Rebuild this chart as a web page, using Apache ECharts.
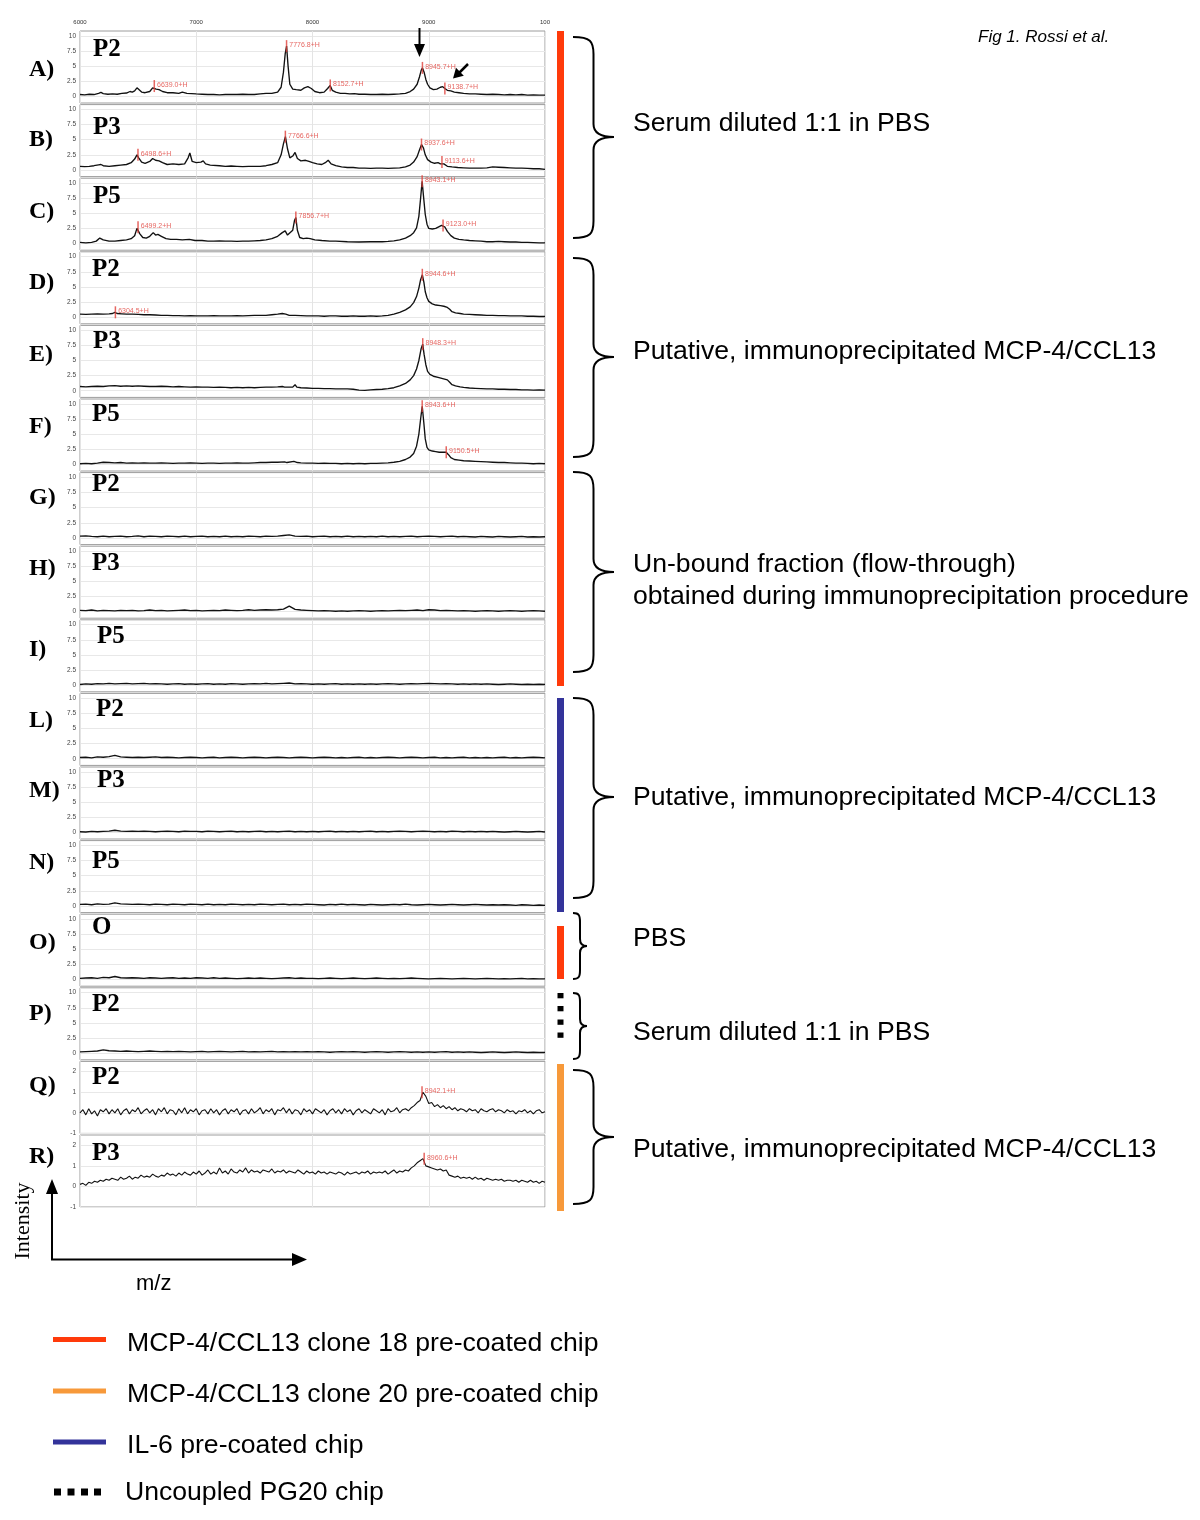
<!DOCTYPE html>
<html><head><meta charset="utf-8">
<script src="https://cdn.jsdelivr.net/npm/echarts@6.0.0/dist/echarts.min.js"></script>
<style>html,body{margin:0;padding:0;background:#fff}#c{width:1200px;height:1520px}</style>
</head><body><div id="c"></div><script>
// ---------- DATA ----------
const mzTicks = [6000, 7000, 8000, 9000, 10000];
const yTicksMain = [0, 2.5, 5, 7.5, 10];
const yTicksLow = [-1, 0, 1, 2];
const rowLetters = ['A)','B)','C)','D)','E)','F)','G)','H)','I)','L)','M)','N)','O)','P)','Q)','R)'];
const panelTags = ['P2','P3','P5','P2','P3','P5','P2','P3','P5','P2','P3','P5','O','P2','P2','P3'];

const specA = [[6000,0.3],[6040,0.25],[6080,0.35],[6120,0.3],[6160,0.5],[6180,0.65],[6200,0.45],[6240,0.35],[6280,0.4],[6320,0.35],[6360,0.5],[6400,0.55],[6430,0.8],[6450,0.7],[6470,0.9],[6490,1.4],[6505,1.2],[6530,0.7],[6560,0.6],[6600,0.8],[6625,1.4],[6639,1.7],[6655,1.2],[6680,1.1],[6710,0.8],[6750,0.6],[6800,0.6],[6850,0.5],[6880,0.7],[6920,0.5],[6960,0.45],[7000,0.4],[7050,0.35],[7100,0.3],[7150,0.3],[7200,0.25],[7250,0.3],[7300,0.3],[7350,0.3],[7400,0.35],[7450,0.3],[7500,0.3],[7550,0.4],[7600,0.5],[7650,0.5],[7700,0.7],[7730,1.5],[7750,4.0],[7765,7.0],[7777,8.3],[7790,5.0],[7805,2.0],[7830,1.2],[7860,1.1],[7900,1.0],[7930,1.4],[7960,1.6],[7990,1.3],[8020,0.8],[8060,0.6],[8100,0.7],[8130,1.3],[8152,1.8],[8170,1.0],[8200,0.7],[8240,0.5],[8280,0.5],[8320,0.4],[8360,0.45],[8400,0.35],[8450,0.35],[8500,0.3],[8550,0.3],[8600,0.35],[8650,0.3],[8700,0.35],[8750,0.4],[8800,0.5],[8840,0.8],[8870,1.2],[8900,2.0],[8920,3.2],[8935,4.3],[8946,4.7],[8960,4.0],[8975,2.8],[8990,2.0],[9010,1.4],[9040,1.1],[9070,1.2],[9100,1.5],[9120,1.6],[9139,1.3],[9160,1.0],[9190,0.9],[9220,0.7],[9260,0.6],[9300,0.5],[9350,0.4],[9400,0.4],[9450,0.35],[9500,0.3],[9550,0.35],[9600,0.3],[9650,0.25],[9700,0.3],[9750,0.25],[9800,0.3],[9850,0.2],[9900,0.25],[9950,0.2],[10000,0.2]];
const peaksA = [[6639.0,1.7],[7776.8,8.3],[8152.7,1.8],[8945.7,4.7],[9138.7,1.3]];

const specB = [[6000,0.6],[6040,0.55],[6080,0.6],[6120,0.7],[6160,0.85],[6180,0.9],[6200,0.7],[6250,0.6],[6300,0.7],[6350,0.8],[6400,0.9],[6440,1.2],[6470,1.8],[6490,2.5],[6505,2.0],[6530,1.3],[6560,1.1],[6600,1.4],[6625,1.9],[6650,1.6],[6680,1.5],[6710,1.2],[6750,0.9],[6800,1.0],[6850,0.9],[6900,1.0],[6930,2.0],[6945,2.8],[6965,1.4],[7000,1.2],[7040,1.3],[7060,1.5],[7080,1.0],[7120,0.8],[7200,0.7],[7250,0.6],[7300,0.65],[7350,0.6],[7400,0.55],[7450,0.6],[7500,0.6],[7550,0.6],[7600,0.7],[7650,0.9],[7700,1.2],[7730,2.5],[7750,4.3],[7767,5.5],[7785,3.5],[7805,2.0],[7830,2.3],[7850,2.9],[7870,1.9],[7900,1.5],[7940,1.6],[7970,1.4],[8000,1.2],[8040,1.0],[8080,0.9],[8110,1.2],[8135,1.6],[8160,1.0],[8200,0.7],[8250,0.5],[8300,0.4],[8350,0.4],[8400,0.3],[8450,0.3],[8500,0.25],[8550,0.3],[8600,0.3],[8650,0.25],[8700,0.3],[8750,0.35],[8800,0.5],[8840,0.8],[8870,1.3],[8900,2.2],[8920,3.3],[8938,4.2],[8955,3.6],[8970,2.5],[8990,1.7],[9020,1.3],[9050,1.1],[9080,1.2],[9100,1.0],[9114,1.3],[9130,1.0],[9160,0.6],[9200,0.5],[9250,0.4],[9300,0.35],[9350,0.3],[9400,0.3],[9450,0.3],[9500,0.35],[9550,0.5],[9600,0.45],[9650,0.4],[9700,0.35],[9750,0.3],[9800,0.3],[9850,0.25],[9900,0.2],[9950,0.2],[10000,0.1]];
const peaksB = [[6498.6,2.5],[7766.6,5.5],[8937.6,4.2],[9113.6,1.3]];

const specC = [[6000,0.2],[6050,0.1],[6100,0.2],[6140,0.4],[6170,0.9],[6185,1.1],[6200,0.6],[6250,0.4],[6300,0.4],[6350,0.5],[6400,0.6],[6440,0.8],[6470,1.3],[6490,2.5],[6499,2.7],[6515,1.6],[6540,1.0],[6570,0.9],[6600,1.2],[6630,1.8],[6650,1.4],[6670,1.5],[6700,1.2],[6740,0.8],[6780,0.7],[6830,0.7],[6880,0.6],[6940,0.7],[6990,0.5],[7050,0.5],[7100,0.4],[7150,0.4],[7200,0.45],[7250,0.4],[7300,0.4],[7350,0.35],[7400,0.4],[7450,0.4],[7500,0.45],[7550,0.5],[7600,0.6],[7650,0.8],[7700,1.2],[7740,1.8],[7765,2.1],[7785,1.4],[7800,1.2],[7830,2.2],[7845,3.8],[7857,4.3],[7870,2.2],[7890,1.0],[7920,0.8],[7950,0.9],[7980,0.8],[8020,0.6],[8080,0.5],[8150,0.4],[8200,0.4],[8300,0.3],[8400,0.25],[8500,0.3],[8600,0.3],[8650,0.35],[8700,0.45],[8750,0.6],[8800,0.9],[8840,1.3],[8870,1.8],[8895,2.6],[8915,4.5],[8930,7.5],[8943,10.3],[8955,7.8],[8970,4.8],[8985,3.2],[9000,2.5],[9030,2.4],[9060,2.5],[9090,2.8],[9110,3.0],[9123,3.0],[9140,2.7],[9160,2.0],[9190,1.3],[9220,0.9],[9260,0.7],[9300,0.6],[9350,0.5],[9400,0.45],[9450,0.4],[9500,0.3],[9550,0.3],[9600,0.35],[9650,0.3],[9700,0.25],[9750,0.25],[9800,0.2],[9850,0.2],[9900,0.15],[9950,0.1],[10000,0.1]];
const peaksC = [[6499.2,2.7],[7856.7,4.3],[8943.1,10.3],[9123.0,3.0]];

const specD = [[6000,0.5],[6050,0.45],[6100,0.5],[6150,0.55],[6200,0.5],[6250,0.55],[6280,0.6],[6300,0.8],[6320,0.6],[6360,0.55],[6400,0.5],[6450,0.5],[6500,0.45],[6550,0.4],[6600,0.4],[6650,0.35],[6700,0.3],[6750,0.3],[6800,0.25],[6850,0.25],[6900,0.2],[6950,0.25],[7000,0.2],[7050,0.2],[7100,0.2],[7150,0.25],[7200,0.2],[7250,0.2],[7300,0.2],[7350,0.25],[7400,0.2],[7450,0.25],[7500,0.3],[7550,0.3],[7600,0.3],[7650,0.4],[7700,0.5],[7740,0.6],[7770,0.5],[7800,0.3],[7850,0.3],[7900,0.25],[7950,0.2],[8000,0.2],[8050,0.2],[8100,0.15],[8150,0.2],[8200,0.2],[8250,0.15],[8300,0.15],[8350,0.2],[8400,0.15],[8450,0.15],[8500,0.2],[8550,0.15],[8600,0.2],[8650,0.3],[8700,0.5],[8750,0.8],[8800,1.2],[8840,1.7],[8870,2.4],[8895,3.4],[8915,4.8],[8930,6.2],[8945,7.0],[8958,5.8],[8970,4.2],[8985,3.2],[9000,2.6],[9030,2.2],[9060,2.0],[9100,1.9],[9130,1.8],[9160,1.6],[9180,1.3],[9200,0.9],[9230,0.7],[9270,0.6],[9300,0.5],[9350,0.45],[9400,0.4],[9450,0.35],[9500,0.3],[9550,0.3],[9600,0.25],[9650,0.25],[9700,0.2],[9750,0.2],[9800,0.2],[9850,0.15],[9900,0.15],[9950,0.1],[10000,0.1]];
const peaksD = [[6304.5,0.8],[8944.6,7.0]];

const specE = [[6000,0.7],[6050,0.65],[6100,0.7],[6150,0.75],[6200,0.7],[6250,0.8],[6300,0.85],[6350,0.75],[6400,0.8],[6450,0.75],[6500,0.8],[6550,0.75],[6600,0.7],[6650,0.7],[6700,0.75],[6750,0.7],[6800,0.65],[6850,0.7],[6900,0.65],[6950,0.6],[7000,0.65],[7050,0.6],[7100,0.6],[7150,0.55],[7200,0.6],[7250,0.55],[7300,0.5],[7350,0.55],[7400,0.5],[7450,0.55],[7500,0.5],[7550,0.55],[7600,0.6],[7650,0.6],[7700,0.65],[7740,0.7],[7760,0.6],[7830,0.6],[7850,1.0],[7865,0.6],[7900,0.5],[7950,0.45],[8000,0.4],[8050,0.4],[8100,0.35],[8150,0.35],[8200,0.3],[8250,0.3],[8300,0.3],[8350,0.25],[8400,0.1],[8450,0.05],[8500,0.15],[8550,0.2],[8600,0.25],[8650,0.35],[8700,0.5],[8750,0.8],[8800,1.2],[8840,1.8],[8870,2.5],[8895,3.6],[8915,5.0],[8935,7.0],[8948,7.7],[8960,6.0],[8975,4.3],[8990,3.2],[9010,2.7],[9040,2.4],[9080,2.2],[9120,2.0],[9160,1.8],[9180,1.4],[9200,1.0],[9230,0.8],[9270,0.65],[9300,0.55],[9350,0.45],[9400,0.4],[9450,0.35],[9500,0.3],[9550,0.3],[9600,0.25],[9650,0.25],[9700,0.2],[9750,0.2],[9800,0.15],[9850,0.15],[9900,0.1],[9950,0.15],[10000,0.1]];
const peaksE = [[8948.3,7.7]];

const specF = [[6000,0.1],[6050,0.15],[6100,0.1],[6150,0.2],[6200,0.35],[6250,0.3],[6300,0.25],[6350,0.3],[6400,0.2],[6450,0.25],[6500,0.2],[6550,0.25],[6600,0.2],[6650,0.2],[6700,0.25],[6750,0.2],[6800,0.15],[6850,0.2],[6900,0.2],[6950,0.25],[7000,0.2],[7050,0.15],[7100,0.2],[7150,0.2],[7200,0.15],[7250,0.2],[7300,0.2],[7350,0.25],[7400,0.2],[7450,0.2],[7500,0.25],[7550,0.3],[7600,0.3],[7650,0.35],[7700,0.35],[7760,0.4],[7780,0.3],[7840,0.5],[7870,0.3],[7900,0.25],[7950,0.2],[8000,0.2],[8050,0.15],[8100,0.2],[8150,0.15],[8200,0.15],[8250,0.1],[8300,0.15],[8350,0.1],[8400,0.15],[8450,0.1],[8500,0.15],[8550,0.15],[8600,0.2],[8650,0.25],[8700,0.35],[8750,0.5],[8800,0.8],[8840,1.2],[8870,1.8],[8895,3.0],[8915,5.0],[8930,7.5],[8944,9.6],[8957,7.0],[8970,4.2],[8985,2.8],[9000,2.4],[9030,2.2],[9060,2.1],[9090,2.0],[9120,2.0],[9150,2.0],[9170,1.6],[9190,1.1],[9220,0.8],[9260,0.7],[9300,0.6],[9350,0.55],[9400,0.5],[9450,0.45],[9500,0.4],[9550,0.35],[9600,0.3],[9650,0.3],[9700,0.25],[9750,0.2],[9800,0.2],[9850,0.15],[9900,0.1],[9950,0.15],[10000,0.1]];
const peaksF = [[8943.6,9.6],[9150.5,2.0]];

const mzGrid50 = [6000,6050,6100,6150,6200,6250,6300,6350,6400,6450,
6500,6550,6600,6650,6700,6750,6800,6850,6900,6950,
7000,7050,7100,7150,7200,7250,7300,7350,7400,7450,
7500,7550,7600,7650,7700,7750,7800,7850,7900,7950,
8000,8050,8100,8150,8200,8250,8300,8350,8400,8450,
8500,8550,8600,8650,8700,8750,8800,8850,8900,8950,
9000,9050,9100,9150,9200,9250,9300,9350,9400,9450,
9500,9550,9600,9650,9700,9750,9800,9850,9900,9950,10000];

const intG = [.3,.35,.25,.2,.3,.2,.25,.3,.2,.25, .35,.2,.3,.25,.2,.3,.25,.2,.3,.2, .25,.3,.2,.25,.2,.3,.2,.25,.2,.3, .25,.2,.3,.25,.3,.4,.5,.3,.25,.3, .2,.25,.3,.2,.25,.2,.3,.2,.25,.2, .25,.2,.3,.2,.25,.2,.25,.3,.2,.25, .3,.25,.2,.25,.3,.2,.25,.2,.15,.25, .2,.15,.25,.2,.15,.2,.25,.15,.2,.15, .2];
const intH = [.2,.15,.25,.1,.2,.15,.1,.2,.15,.2, .1,.15,.25,.15,.2,.1,.15,.2,.25,.15, .2,.1,.15,.2,.15,.25,.2,.15,.2,.3, .2,.25,.3,.25,.3,.4,.9,.35,.25,.2, .15,.1,.15,.1,.05,.1,.05,.1,.15,.1, .05,.1,.15,.1,.15,.2,.15,.2,.25,.15, .3,.25,.15,.2,.15,.1,.15,.1,.05,.1, .15,.1,.05,.1,.15,.1,.05,.1,.15,.1, .05];
const intI = [.1,.2,.15,.25,.2,.3,.2,.25,.3,.2, .25,.3,.2,.25,.2,.15,.2,.25,.15,.2, .15,.2,.25,.15,.2,.15,.25,.2,.15,.2, .25,.2,.3,.2,.25,.3,.35,.2,.25,.2, .15,.2,.15,.2,.25,.15,.2,.15,.2,.15, .2,.15,.2,.25,.2,.15,.2,.25,.2,.25, .3,.25,.2,.25,.2,.15,.2,.15,.2,.15, .2,.15,.1,.15,.2,.15,.1,.15,.1,.15, .1];
const intL = [.2,.25,.15,.3,.25,.35,.55,.3,.25,.2, .25,.2,.25,.3,.2,.25,.2,.15,.2,.25, .2,.15,.2,.25,.15,.2,.25,.2,.15,.2, .25,.2,.15,.2,.25,.2,.15,.2,.25,.2, .15,.2,.25,.2,.15,.2,.15,.2,.25,.15, .2,.15,.2,.25,.2,.15,.2,.25,.2,.15, .2,.25,.15,.2,.15,.2,.25,.15,.2,.15, .2,.15,.2,.25,.15,.2,.15,.2,.25,.2, .15];
const intM = [.1,.05,.15,.1,.15,.2,.35,.2,.15,.2, .15,.2,.15,.1,.15,.2,.15,.1,.2,.15, .15,.1,.2,.15,.1,.15,.2,.1,.15,.1, .15,.2,.1,.15,.1,.15,.2,.1,.15,.1, .15,.1,.15,.2,.1,.15,.1,.15,.1,.15, .2,.1,.15,.1,.15,.2,.15,.1,.15,.2, .15,.1,.15,.1,.2,.15,.1,.15,.1,.15, .1,.15,.1,.05,.1,.15,.1,.05,.1,.15, .05];
const intN = [.25,.3,.2,.35,.25,.3,.5,.35,.3,.25, .3,.25,.2,.3,.25,.2,.3,.25,.2,.3, .25,.2,.3,.2,.25,.2,.3,.25,.2,.25, .2,.3,.25,.2,.25,.3,.2,.25,.2,.3, .25,.2,.15,.25,.2,.3,.2,.25,.2,.15, .25,.2,.15,.2,.25,.2,.3,.2,.15,.2, .25,.2,.15,.2,.25,.2,.15,.2,.25,.2, .15,.2,.15,.2,.15,.1,.2,.15,.1,.15, .1];
const intO = [.2,.25,.3,.2,.35,.3,.5,.3,.25,.3, .25,.2,.3,.25,.2,.25,.3,.2,.25,.2, .3,.25,.2,.3,.2,.25,.2,.15,.2,.25, .2,.25,.2,.15,.2,.25,.3,.2,.25,.2, .2,.15,.2,.25,.2,.15,.2,.25,.2,.15, .2,.25,.2,.15,.2,.15,.2,.25,.2,.15, .1,.15,.2,.15,.1,.15,.2,.15,.1,.15, .2,.15,.1,.15,.1,.15,.2,.1,.15,.1, .1];
const intP = [.2,.25,.3,.35,.55,.4,.35,.3,.35,.3, .25,.3,.35,.3,.25,.3,.25,.3,.25,.2, .25,.3,.2,.25,.3,.25,.2,.25,.3,.2, .25,.2,.25,.3,.2,.25,.2,.25,.2,.25, .2,.25,.2,.15,.2,.25,.2,.25,.2,.15, .2,.25,.2,.15,.2,.25,.2,.15,.2,.15, .2,.15,.2,.25,.15,.2,.15,.2,.15,.1, .15,.2,.15,.1,.15,.2,.15,.1,.15,.1, .1];

const mzGrid25 = [6000,6025,6050,6075,6100,6125,6150,6175,
6200,6225,6250,6275,6300,6325,6350,6375,
6400,6425,6450,6475,6500,6525,6550,6575,
6600,6625,6650,6675,6700,6725,6750,6775,
6800,6825,6850,6875,6900,6925,6950,6975,
7000,7025,7050,7075,7100,7125,7150,7175,
7200,7225,7250,7275,7300,7325,7350,7375,
7400,7425,7450,7475,7500,7525,7550,7575,
7600,7625,7650,7675,7700,7725,7750,7775,
7800,7825,7850,7875,7900,7925,7950,7975,
8000,8025,8050,8075,8100,8125,8150,8175,
8200,8225,8250,8275,8300,8325,8350,8375,
8400,8425,8450,8475,8500,8525,8550,8575,
8600,8625,8650,8675,8700,8725,8750,8775,
8800,8825,8850,8875,8900,8925,8950,8975,
9000,9025,9050,9075,9100,9125,9150,9175,
9200,9225,9250,9275,9300,9325,9350,9375,
9400,9425,9450,9475,9500,9525,9550,9575,
9600,9625,9650,9675,9700,9725,9750,9775,
9800,9825,9850,9875,9900,9925,9950,9975,10000];

const intQ = [0.0,0.15,-0.1,0.2,-0.05,0.1,-0.15,0.15,
0.05,0.2,-0.05,0.15,0.0,0.2,-0.1,0.1,
0.2,-0.05,0.15,0.05,0.25,-0.05,0.1,0.2,
0.0,0.15,-0.1,0.2,0.05,0.25,-0.05,0.15,
0.1,-0.1,0.2,0.0,0.25,-0.05,0.15,0.05,
0.2,-0.1,0.1,0.15,-0.05,0.2,0.0,0.15,
-0.1,0.1,0.2,-0.05,0.15,0.05,0.2,-0.1,
0.1,0.15,-0.05,0.2,0.0,0.1,0.25,-0.05,
0.15,0.05,0.2,-0.1,0.15,0.1,0.25,0.0,
0.2,-0.05,0.15,0.1,-0.1,0.2,0.05,0.15,
-0.05,0.2,0.1,0.0,0.15,-0.1,0.1,0.2,
0.0,0.15,-0.05,0.2,0.05,0.15,-0.1,0.1,
0.2,0.0,0.15,0.05,-0.05,0.2,0.1,0.0,
0.15,-0.1,0.2,0.05,0.1,0.25,0.0,0.15,
0.2,0.1,0.25,0.35,0.5,0.6,1.0,0.8,
0.45,0.5,0.3,0.4,0.25,0.35,0.2,0.3,
0.15,0.25,0.1,0.2,0.15,0.05,0.2,0.1,
0.15,0.0,0.2,0.1,0.05,0.15,0.2,0.05,
0.15,0.1,0.0,0.15,0.05,0.1,-0.05,0.1,
0.05,0.15,0.0,0.1,-0.05,0.1,0.15,0.0,
0.05];
const peaksQ = [[8942.1,1.0]];

const intR = [0.1,0.15,0.05,0.2,0.15,0.25,0.2,0.3,
0.25,0.35,0.3,0.4,0.35,0.3,0.45,0.35,
0.4,0.5,0.35,0.45,0.4,0.55,0.45,0.5,
0.45,0.6,0.5,0.45,0.55,0.5,0.65,0.55,
0.6,0.5,0.65,0.55,0.7,0.6,0.55,0.7,
0.6,0.75,0.55,0.65,0.8,0.6,0.7,0.6,
0.9,0.65,0.75,0.6,0.85,0.7,0.65,0.8,
0.7,0.9,0.65,0.8,0.7,0.75,0.65,0.8,
0.75,0.7,0.85,0.65,0.75,0.7,0.8,0.65,
0.75,0.7,0.65,0.8,0.7,0.6,0.75,0.65,
0.7,0.6,0.75,0.65,0.7,0.6,0.7,0.65,
0.6,0.7,0.65,0.55,0.7,0.6,0.65,0.7,
0.6,0.7,0.65,0.75,0.6,0.7,0.65,0.7,
0.65,0.75,0.6,0.7,0.8,0.65,0.75,0.7,
0.8,0.75,0.9,1.0,1.15,1.25,1.35,1.0,
0.95,0.9,0.85,0.8,0.85,0.75,0.8,0.55,
0.5,0.45,0.5,0.4,0.45,0.4,0.45,0.35,
0.45,0.35,0.4,0.3,0.4,0.35,0.3,0.35,
0.3,0.35,0.25,0.3,0.3,0.25,0.3,0.2,
0.3,0.25,0.2,0.3,0.2,0.25,0.15,0.25,
0.2];
const peaksR = [[8960.6,1.35]];

// ---------- BUILD ----------
const zip = (xs, ys) => xs.map((x, i) => [x, ys[i]]);
const panelData = [specA, specB, specC, specD, specE, specF,
  zip(mzGrid50, intG), zip(mzGrid50, intH), zip(mzGrid50, intI),
  zip(mzGrid50, intL), zip(mzGrid50, intM), zip(mzGrid50, intN),
  zip(mzGrid50, intO), zip(mzGrid50, intP),
  zip(mzGrid25, intQ), zip(mzGrid25, intR)];
const panelPeaks = [peaksA, peaksB, peaksC, peaksD, peaksE, peaksF, [], [], [], [], [], [], [], [], peaksQ, peaksR];

// layout (pixels)
const PANEL_TOP0 = 31, PANEL_STEP = 73.6, PANEL_H = 72, PANEL_L = 80, PANEL_W = 465;
const rowLabelY = [70,140,212,283,355,427,498,569,650,721,791,863,943,1014,1086,1157];
const tagX = [93,93,93,92,93,92,92,92,97,96,97,92,92,92,92,92];
const tagY = [50,128,197,270,342,415,485,564,637,710,781,862,928,1005,1078,1154];

const grids = [], xAxes = [], yAxes = [], series = [];
panelData.forEach((d, i) => {
  const low = i >= 14;
  grids.push({left: PANEL_L, width: PANEL_W, top: PANEL_TOP0 + i * PANEL_STEP, height: PANEL_H,
    show: true, borderColor: '#9c9c9c', borderWidth: 1, backgroundColor: '#fff'});
  xAxes.push({type: 'value', gridIndex: i, min: 6000, max: 10000, interval: 1000,
    position: 'top',
    axisLine: {show: false}, axisTick: {show: false},
    axisLabel: {show: i === 0, fontSize: 6, color: '#333', margin: 6, fontFamily: 'Liberation Sans',
      formatter: v => (v === 10000 ? '100' : String(v))},
    splitLine: {show: true, lineStyle: {color: '#e4e4e4', width: 1}}});
  const ticks = low ? yTicksLow : yTicksMain;
  yAxes.push({type: 'value', gridIndex: i, min: low ? -1 : -1.1, max: low ? 2.5 : 10.8,
    axisLine: {show: false},
    axisTick: {show: false, customValues: ticks},
    axisLabel: {show: true, customValues: ticks, fontSize: 6.5, color: '#444', margin: 4,
      fontFamily: 'Liberation Sans'},
    splitLine: {show: true, lineStyle: {color: '#e8e8e8', width: 1}}});
  series.push({type: 'line', xAxisIndex: i, yAxisIndex: i, data: d, showSymbol: false,
    symbol: 'none', lineStyle: {color: '#111', width: low ? 1.1 : 1.35}, silent: true, z: 2});
  if (panelPeaks[i].length) {
    series.push({type: 'scatter', xAxisIndex: i, yAxisIndex: i, data: panelPeaks[i],
      symbol: 'rect', symbolSize: [1.5, 12], itemStyle: {color: '#e0403a'}, z: 3, silent: true,
      label: {show: true, position: 'right', distance: 2, offset: [0, -1], fontSize: 7,
        color: '#e0403a', fontFamily: 'Liberation Sans',
        formatter: p => p.value[0].toFixed(1) + '+H'}});
  }
});

// ---------- GRAPHICS ----------
const g = [];
const serif = '"Liberation Serif", "DejaVu Serif", serif';
const sans = '"Liberation Sans", Arial, sans-serif';
function txt(x, y, text, font, align, extra) {
  return Object.assign({type: 'text', x: x, y: y, z: 10,
    style: {text: text, font: font, fill: '#000', textAlign: align || 'left', align: align || 'left',
      textVerticalAlign: 'middle', verticalAlign: 'middle'}}, extra || {});
}
rowLetters.forEach((t, i) => g.push(txt(29, rowLabelY[i], t, 'bold 24px ' + serif)));
panelTags.forEach((t, i) => g.push(txt(tagX[i], tagY[i], t, 'bold 25px ' + serif)));

// colour bars
const RED = '#ff3a0a', ORANGE = '#f7993a', BLUE = '#33339a';
function rect(x, y, w, h, c) { return {type: 'rect', shape: {x: x, y: y, width: w, height: h}, style: {fill: c}, z: 5}; }
g.push(rect(557, 31, 7, 655, RED));
g.push(rect(557, 698, 7, 214, BLUE));
g.push(rect(557, 926, 7, 53, RED));
[993, 1006, 1019.5, 1032.5].forEach(y => g.push(rect(557.5, y, 6, 5.3, '#000')));
g.push(rect(557, 1064, 7, 147, ORANGE));

// braces (bezier curves + straight stems)
function line(pts, w) { return {type: 'polyline', shape: {points: pts}, style: {stroke: '#000', lineWidth: w, fill: 'none'}, z: 6}; }
function bez(x1, y1, cx1, cy1, cx2, cy2, x2, y2) {
  return {type: 'bezierCurve', shape: {x1: x1, y1: y1, cpx1: cx1, cpy1: cy1, cpx2: cx2, cpy2: cy2, x2: x2, y2: y2},
    style: {stroke: '#000', lineWidth: 2, fill: 'none'}, z: 6};
}
const braces = [[37,238,137,0],[258,457,357,0],[472,672,572,0],[698,898,797,0],[913,979,946,1],[993,1059,1026,1],[1070,1204,1137,0]];
braces.forEach(([t, b, m, small]) => {
  const L = 573, S = small ? 580 : 593.5, T = small ? 587 : 614, r = small ? 9 : 17, rm = small ? 7 : 13;
  g.push(bez(L, t, L + (S - L) * 0.85, t, S, t + r * 0.25, S, t + r));
  g.push(line([[S, t + r], [S, m - rm]], 2));
  g.push(bez(S, m - rm, S, m - rm * 0.3, S + (T - S) * 0.4, m, T, m));
  g.push(bez(T, m, S + (T - S) * 0.4, m, S, m + rm * 0.3, S, m + rm));
  g.push(line([[S, m + rm], [S, b - r]], 2));
  g.push(bez(S, b - r, S, b - r * 0.25, L + (S - L) * 0.85, b, L, b));
});

const F26 = '26.6px ' + sans;
g.push(txt(633, 123.5, 'Serum diluted 1:1 in PBS', F26));
g.push(txt(633, 351.5, 'Putative, immunoprecipitated MCP-4/CCL13', F26));
g.push(txt(633, 564.5, 'Un-bound fraction (flow-through)', F26));
g.push(txt(633, 596.5, 'obtained during immunoprecipitation procedure', F26));
g.push(txt(633, 797.5, 'Putative, immunoprecipitated MCP-4/CCL13', F26));
g.push(txt(633, 938.5, 'PBS', F26));
g.push(txt(633, 1032.5, 'Serum diluted 1:1 in PBS', F26));
g.push(txt(633, 1149.5, 'Putative, immunoprecipitated MCP-4/CCL13', F26));
g.push(txt(978, 37.5, 'Fig 1. Rossi et al.', 'italic 17px ' + sans));

// arrows in panel A
function poly(pts) { return {type: 'polygon', shape: {points: pts}, style: {fill: '#000'}, z: 6}; }
g.push(line([[419.5, 28], [419.5, 47]], 2));
g.push(poly([[419.5, 57], [414, 44], [425, 44]]));
g.push(line([[468, 64], [459, 73]], 2.5));
g.push(poly([[453, 78.5], [463.8, 75.8], [456, 67.8]]));

// intensity / m/z axes
g.push(line([[52, 1260], [52, 1192]], 2));
g.push(poly([[52, 1179], [46, 1194], [58, 1194]]));
g.push(line([[51, 1259.5], [294, 1259.5]], 2));
g.push(poly([[307, 1259.5], [292, 1253], [292, 1266]]));
g.push(txt(23, 1221, 'Intensity', '22px ' + serif, 'center', {rotation: Math.PI / 2}));
g.push(txt(136, 1284, 'm/z', '22px ' + sans));

// legend
g.push(rect(53, 1337, 53, 5, RED));
g.push(rect(53, 1388.5, 53, 5, ORANGE));
g.push(rect(53, 1439.5, 53, 5, BLUE));
[54, 67.5, 81, 94].forEach(x => g.push(rect(x, 1488.5, 7, 7, '#000')));
g.push(txt(127, 1343.5, 'MCP-4/CCL13 clone 18 pre-coated chip', F26));
g.push(txt(127, 1394.5, 'MCP-4/CCL13 clone 20 pre-coated chip', F26));
g.push(txt(127, 1445.5, 'IL-6 pre-coated chip', F26));
g.push(txt(125, 1492.5, 'Uncoupled PG20 chip', F26));

const chart = echarts.init(document.getElementById('c'), null, {renderer: 'canvas'});
chart.setOption({
  animation: false,
  backgroundColor: '#fff',
  grid: grids, xAxis: xAxes, yAxis: yAxes, series: series,
  graphic: {elements: g}
});
</script></body></html>
